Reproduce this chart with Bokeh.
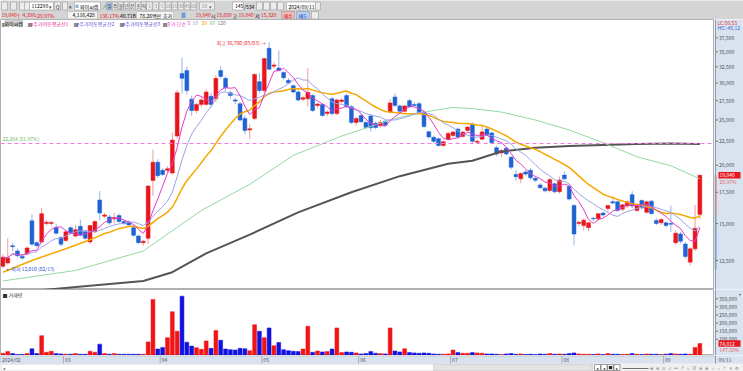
import pandas as pd
from bokeh.plotting import figure
from bokeh.layouts import column, row
from bokeh.models import ColumnDataSource, Range1d, Span, Label
from bokeh.core.properties import value
from bokeh.embed import file_html
from bokeh.resources import INLINE

# ---------------- data ----------------
opens = [12150,12350,13450,13100,12750,12900,15200,13650,13700,15000,
         15000,14700,14000,13800,14700,14100,14800,14400,13700,14400,
         16850,15550,15500,15350,15600,15150,15100,14700,14100,13650,
         13950,18550,20300,19500,19500,19250,23100,31450,31900,27700,
         26200,27000,27000,28100,27750,31900,30700,28600,27600,27100,
         25200,23800,25200,30200,28900,35600,32600,32300,31600,30400,
         29600,28700,27700,27760,28200,26850,27000,25800,27750,25800,
         27400,28200,26700,24700,25550,24700,25500,24600,24300,24850,
         26000,28000,26800,26100,27500,27000,27100,26000,23600,22950,
         22800,22050,22750,23150,23900,23050,23750,24500,22400,22740,
         23900,23450,21800,21250,21750,20800,19100,18700,19350,19500,
         18750,18150,17860,17660,18250,17550,19050,18000,16400,15000,
         14850,14700,15400,15350,15800,16150,16700,16700,16100,16350,
         17300,16000,16800,15850,16750,15230,15050,15050,15000,13650,
         14250,13560,12400,13240,15680]
highs = [12900,13950,13650,13250,12900,13400,15700,13750,16200,15250,
         15200,14950,14100,14500,14800,14900,15300,14500,14900,15250,
         17600,15800,15650,15800,15750,15300,15250,14800,14200,13850,
         18100,21600,20600,19700,19900,23500,29000,34000,32500,28200,
         27200,28000,29100,28600,31200,32600,31000,28900,27900,27300,
         25600,24500,31500,31500,34000,36700,33300,35200,31800,30700,
         29800,29000,28200,32300,28400,27200,27200,26200,28000,27800,
         27800,28500,26900,25400,25800,24900,25700,24800,25000,25000,
         27700,28500,27000,26900,27800,27300,27300,26200,23700,23100,
         22900,22600,23600,23700,24100,23700,24300,24700,22700,24300,
         24100,23600,22000,21700,21900,20900,19500,19300,19500,19700,
         18900,18300,18000,18800,18400,18900,19400,18200,16500,15200,
         15400,15100,15500,15800,15900,16450,17100,16800,16500,16800,
         17600,16600,16900,16800,16850,15400,15400,15150,16400,14500,
         14400,13700,13350,16450,19040]
lows = [12010,12250,13100,12700,12550,12850,13450,13350,13600,14850,
        14850,14200,13400,13700,14200,14000,14100,13850,13550,14300,
        15250,15400,14900,15000,15050,14900,14800,14050,13550,13450,
        13550,17200,18800,19000,19300,19100,22800,28500,28300,25500,
        25800,26600,26800,26600,27300,30700,28800,27800,27000,24800,
        23300,22700,25000,28600,28600,32000,32200,31800,30500,29800,
        28500,27400,27400,26700,26000,26500,25400,25500,25600,25600,
        27100,26500,24500,24300,24600,23900,23600,23900,24100,24200,
        25900,26700,25900,25900,26500,26700,25700,24000,22800,22300,
        21900,21900,22600,23000,22800,22900,23600,22300,22200,22600,
        23100,22200,20900,20800,21000,19600,18500,18300,19000,18600,
        18400,17800,17500,17500,17400,17400,18600,16800,13480,14800,
        14500,14450,15200,15200,15500,15900,16500,15900,15950,16200,
        16200,15900,16100,15750,15700,14900,14900,14700,14400,13500,
        13600,12600,12200,13100,15320]
closes = [12700,12650,13380,12800,12650,13300,13550,13450,15750,15100,
          15080,14300,13550,14400,14300,14550,14150,13950,14850,15150,
          15800,15650,15050,15450,15150,15000,14900,14150,13650,13750,
          18050,20300,19000,19100,19650,22650,28600,30700,28900,26200,
          27000,27600,28700,27000,30700,31000,29300,28200,27450,25000,
          23750,23950,31300,28900,33850,32100,32800,31900,30800,30000,
          28700,27600,27900,28650,26200,27050,25550,26000,25800,27600,
          27600,26700,24700,25200,24800,24100,24050,24100,24700,24350,
          27200,26850,26100,26800,26700,26850,25900,24200,23000,22500,
          22050,22450,23400,23550,23000,23550,24150,22500,22500,23570,
          23250,22350,21150,21500,21150,19800,18900,19200,19150,18800,
          18570,17900,17630,18630,17550,18600,18700,16930,14250,15100,
          15250,15050,15350,15750,15650,16400,16600,16000,16450,16700,
          16350,16450,16200,16700,15750,15000,15300,14850,14950,14300,
          13750,12750,13240,14650,19040]
volumes = [14000,24000,12000,6000,6000,12000,42000,12000,122000,20000,
           26000,12000,10000,8000,8000,12000,8000,8000,26000,20000,
           70000,12000,8000,12000,8000,8000,8000,8000,8000,8000,
           84000,346000,40000,50000,110000,270000,150000,366000,82000,58000,
           48000,38000,90000,44000,154000,94000,40000,36000,34000,44000,
           42000,30000,190000,150000,110000,170000,60000,80000,36000,30000,
           26000,24000,40000,180000,20000,28000,22000,24000,40000,170000,
           18000,22000,20000,16000,10000,12000,24000,14000,12000,10000,
           170000,28000,22000,42000,18000,16000,14000,16000,14000,10000,
           8000,8000,10000,34000,18000,14000,14000,18000,16000,14000,
           10000,10000,8000,6000,10000,12000,8000,10000,6000,8000,
           6000,10000,8000,12000,8000,10000,8000,12000,16000,10000,
           8000,8000,6000,10000,6000,12000,8000,8000,6000,8000,
           12000,8000,6000,10000,8000,8000,6000,8000,12000,10000,
           8000,10000,8000,50000,74000]

# moving-average values read off the picture where the window is not visible
ma20_head_idx = [0, 6, 13, 18]
ma20_head_val = [11800, 12500, 13250, 13850]
ma60_idx = [0, 15, 29, 41, 51, 60, 70, 81, 88, 93, 97, 103, 110, 117, 124, 131, 138, 144]
ma60_val = [11300, 11900, 13100, 16000, 18200, 21000, 23100, 25200, 26100, 26600, 26450,
            26000, 25000, 23800, 22350, 20850, 19950, 18700]
ma120_idx = [0, 10, 29, 35, 42, 51, 61, 72, 82, 92, 97, 103, 110, 117, 124, 131, 138, 144]
ma120_val = [10600, 10850, 11300, 11800, 12950, 14200, 15850, 17500, 18950, 20150, 20450,
             21400, 21800, 22000, 22100, 22200, 22250, 22200]

month_start_idx = [0, 13, 33, 54, 74, 93, 116, 137]
month_labels = ["2024/02", "03", "04", "05", "06", "07", "08", "09"]
last_date_label = "09/11"
price_ticks = [12500, 15000, 17500, 20000, 22500, 25000, 27500, 30000, 32500, 35000, 37500]
volume_ticks = [100000, 150000, 200000, 250000, 300000, 350000]
axis_bar_levels = [12000, 15600, 19040]
high_idx, high_price, high_text = 55, 36700, "최고 36,700 (05/03) →"
low_idx, low_price, low_text = 0, 12010, "←최저 12,010 (02/13)"
ref_price, ref_text = 22264, "22,264 (51.97%)"
last_price_text, last_change_text = "19,040", "29.97%"
last_vol_text, last_vol_pct = "74,012", "147.58%"

# ---------------- styles ----------------
FONT = "Noto Sans CJK KR"
FS = "5px"
RED = "#e8161c"
BLUE = "#1e62d4"
RED_WICK = "#f29a9a"
BLUE_WICK = "#92b4ea"
VRED = "#f01414"
VBLUE = "#1212e0"
PANEL = "#d9e3ef"
HDR = "#d4d4d4"
W = 743
FRAME_W = 714
AX_W = W - FRAME_W
PX = 4.84
PRICE_H, VOL_H, BOT_H = 270, 66, 16

n = len(closes)
xs = list(range(n))
up = [c >= o for o, c in zip(opens, closes)]
src = ColumnDataSource(dict(
    x=xs, high=highs, low=lows,
    top=[max(o, c) for o, c in zip(opens, closes)],
    bottom=[min(o, c) for o, c in zip(opens, closes)],
    body=[RED if u else BLUE for u in up],
    wick=[RED_WICK if u else BLUE_WICK for u in up],
    vol=volumes,
    vcol=[VRED if u else VBLUE for u in up]))

cs = pd.Series(closes, dtype=float)
ma5 = cs.rolling(5, min_periods=1).mean().tolist()
ma10 = cs.rolling(10, min_periods=1).mean().tolist()
ma20_full = cs.rolling(20).mean()
ma20_x = ma20_head_idx + xs[19:]
ma20_y = ma20_head_val + ma20_full.iloc[19:].tolist()


def txt(fig, x, y, s, color="#000000", align="left", size=FS, base="middle", **kw):
    fig.text(x=[x], y=[y], text=[s], text_color=color, text_align=align,
             text_baseline=base, text_font=value(FONT), text_font_size=size, **kw)


def box(fig, x0, x1, y0, y1, fill, line="#9a9a9a"):
    fig.quad(left=[x0], right=[x1], top=[y0], bottom=[y1], fill_color=fill,
             line_color=line, line_width=0.6)


def lab(fig, x, y, s, color="#000000", xu="screen", yu="screen", align="left",
        base="middle", bg=None, size=FS, **kw):
    fig.add_layout(Label(x=x, y=y, x_units=xu, y_units=yu, text=s, text_color=color,
                         text_font=FONT, text_font_size=size, text_align=align,
                         text_baseline=base, background_fill_color=bg, **kw))


def bare(f, bg):
    f.background_fill_color = bg
    f.border_fill_color = bg
    f.outline_line_color = None
    f.grid.visible = False
    return f


def pixel_fig(w, h, bg=HDR):
    f = figure(width=w, height=h, x_range=Range1d(0, w), y_range=Range1d(h, 0),
               toolbar_location=None, output_backend="svg", min_border=0,
               x_axis_location=None, y_axis_location=None)
    return bare(f, bg)

# ---------------- header (toolbar rows) ----------------
hdr = pixel_fig(W, 19)
for x0 in (1, 10, 19, 24):
    box(hdr, x0, x0 + 6, 1.5, 9.5, "#ececec")
box(hdr, 29, 53, 1.5, 9.5, "#ffffff")
txt(hdr, 31, 5.6, "112290")
txt(hdr, 48.5, 5.6, "▾", "#404040")
box(hdr, 54, 60, 1.5, 9.5, "#ececec")
txt(hdr, 57, 5.6, "Q", "#303030", align="center")
box(hdr, 62, 67, 1.5, 9.5, "#ececec")
txt(hdr, 68, 5.6, "▾", "#404040")
box(hdr, 74, 100, 1.5, 9.5, "#ffffff")
box(hdr, 75, 78, 4, 7.5, "#8fb0e0", None)
txt(hdr, 79.5, 5.6, "와이씨켐")
txt(hdr, 101, 5.6, "↗", "#2a9a2a")
for k, s in enumerate(["일", "주", "월", "년", "분", "초", "틱"]):
    x0 = 106 + k * 5.8
    box(hdr, x0, x0 + 5.4, 1.5, 9.5, "#a9c7ee" if k == 0 else "#ececec")
    txt(hdr, x0 + 2.7, 5.6, s, "#202020", align="center", size="4.5px")
for k, s in enumerate(["1", "3", "5", "10", "15", "30", "45", "60"]):
    x0 = 146 + k * 6.3
    box(hdr, x0, x0 + 5.8, 1.5, 9.5, "#ececec")
    txt(hdr, x0 + 2.9, 5.6, s, "#8a8a8a", align="center", size="4.5px")
box(hdr, 199, 214, 1.5, 9.5, "#ececec")
txt(hdr, 201, 5.6, "10", "#8a8a8a")
txt(hdr, 208.5, 5.6, "▾", "#606060")
box(hdr, 232, 243, 1.5, 9.5, "#ffffff")
txt(hdr, 234.5, 5.6, "145")
txt(hdr, 243.5, 5.6, "/534")
for x0 in (256, 263, 270, 277):
    box(hdr, x0, x0 + 6, 1.5, 9.5, "#ececec")
box(hdr, 286, 315, 1.5, 9.5, "#ffffff")
txt(hdr, 288, 5.6, "2024/09/11")
box(hdr, 315, 320, 1.5, 9.5, "#ececec")
# second row
txt(hdr, 1, 14.8, "19,040", RED)
txt(hdr, 15.5, 14.8, "↑", RED)
txt(hdr, 22, 14.8, "4,390", RED)
txt(hdr, 34, 14.8, "+29.97%", RED)
box(hdr, 67, 97, 11, 18.5, "#f4f4f4", "#b4b4b4")
txt(hdr, 72, 14.8, "4,116,428")
txt(hdr, 99, 14.8, "136.17%", RED)
txt(hdr, 119.5, 14.8, "40.71B")
box(hdr, 136, 173, 11, 18.5, "#f4f4f4", "#b4b4b4")
txt(hdr, 139, 14.8, "78.26백만")
txt(hdr, 162.5, 14.8, "호가")
box(hdr, 181, 185, 12, 17.5, "#6f9be0", None)
txt(hdr, 195, 14.8, "19,040", RED)
txt(hdr, 210.5, 14.8, "시")
txt(hdr, 216, 14.8, "15,680", RED)
txt(hdr, 232, 14.8, "고")
txt(hdr, 238, 14.8, "19,040", RED)
txt(hdr, 254.5, 14.8, "저")
txt(hdr, 260.5, 14.8, "15,320", RED)
box(hdr, 281, 294, 11, 18.5, "#f5b8b8")
txt(hdr, 287.5, 14.8, "매수", "#c01010", align="center")
box(hdr, 296, 309, 11, 18.5, "#b8cff5")
txt(hdr, 302.5, 14.8, "매도", "#1040b0", align="center")
box(hdr, 311, 318, 11, 18.5, "#ececec")

# ---------------- price pane ----------------
xr = Range1d(-0.5, -0.5 + FRAME_W / PX)
yr = Range1d(10834, 41044)
p = figure(width=FRAME_W, height=PRICE_H, x_range=xr, y_range=yr, y_axis_type="log",
           x_axis_location=None, y_axis_location=None, toolbar_location=None,
           output_backend="svg", min_border=0)
bare(p, "#ffffff")
p.outline_line_color = "#b0b0b0"
p.add_layout(Span(location=ref_price, dimension="width", line_color="#f07ce0",
                  line_dash="4 3", line_width=1))
p.segment(x0="x", y0="low", x1="x", y1="high", line_color="wick", line_width=1, source=src)
p.vbar(x="x", top="top", bottom="bottom", width=0.8, fill_color="body",
       line_color="body", line_width=0.5, source=src)
p.line(ma120_idx, ma120_val, line_color="#555555", line_width=2.0)
p.line(ma60_idx, ma60_val, line_color="#94d8a0", line_width=1)
p.line(ma20_x, ma20_y, line_color="#f5a800", line_width=1.5)
p.line(xs, ma10, line_color="#9aa2e6", line_width=1)
p.line(xs, ma5, line_color="#e63cc8", line_width=1)

txt(p, high_idx - 0.7, high_price, high_text, RED, align="right")
txt(p, low_idx + 0.7, low_price, low_text, "#2a4fcf")
lab(p, 2, ref_price, ref_text, "#66bb66", yu="data", base="bottom", y_offset=1)

legend_items = [(1, "■", "#8a8a8a"), (4, "와이씨켐", "#000000"), (27, "■", "#8a8a8a"),
                (30, "#주가이동평균선1", "#e8229a"), (73, "■", "#8a8a8a"),
                (76, "#주가이동평균선2", "#5a50dc"), (119, "■", "#8a8a8a"),
                (122, "#주가이동평균선3", "#4a48d0"), (162, "■", "#8a8a8a"),
                (166, "종가 단순", "#e63cc8"), (187, "5", "#e63cc8"),
                (192, "10", "#8f96e0"), (201, "20", "#f0a000"),
                (209, "60", "#6cc47a"), (217, "120", "#707070")]
for x, s, c in legend_items:
    lab(p, x, PRICE_H - 3.5, s, c, bg="#cfcfcf" if s == "와이씨켐" else None)

# price axis panel
pa = figure(width=AX_W, height=PRICE_H, x_range=Range1d(0, AX_W), y_range=yr,
            y_axis_type="log", x_axis_location=None, y_axis_location=None,
            toolbar_location=None, output_backend="svg", min_border=0)
bare(pa, PANEL)
pa.add_layout(Span(location=1, dimension="height", line_color="#8a9ab0", line_width=1))
pa.segment(x0=[1] * 2, x1=[1] * 2, y0=axis_bar_levels[:2], y1=axis_bar_levels[1:],
           line_color=["#6e96e0", "#f06a6a"], line_width=2)
pa.segment(x0=[1.5] * len(price_ticks), x1=[3.5] * len(price_ticks), y0=price_ticks,
           y1=price_ticks, line_color="#707070", line_width=1)
pa.text(x=[4.5] * len(price_ticks), y=price_ticks, text=[f"{t:,}" for t in price_ticks],
        text_color="#505050", text_baseline="middle", text_font=value(FONT),
        text_font_size=FS)
pa.rect(x=[15], y=[closes[-1]], width=22, height=6.5, height_units="screen",
        fill_color=RED, line_color=None)
lab(pa, 5, closes[-1], last_price_text, "#ffffff", xu="data", yu="data")
lab(pa, 5, closes[-1], last_change_text, "#e05a5a", xu="data", yu="data", y_offset=-6.5)
lab(pa, 3, PRICE_H - 2.8, "LC:50.53", "#e03030")
lab(pa, 3, PRICE_H - 7.8, "HC:-48.12", "#3060d0")

# ---------------- volume pane ----------------
vyr = Range1d(0, 407000)
v = figure(width=FRAME_W, height=VOL_H, x_range=xr, y_range=vyr, x_axis_location=None,
           y_axis_location=None, toolbar_location=None, output_backend="svg", min_border=0)
bare(v, "#ffffff")
v.outline_line_color = "#b0b0b0"
v.vbar(x="x", top="vol", bottom=0, width=0.8, fill_color="vcol", line_color="vcol",
       line_width=0.5, source=src)
lab(v, 2, VOL_H - 4.5, "■ 거래량", "#303030")

va = figure(width=AX_W, height=VOL_H, x_range=Range1d(0, AX_W), y_range=vyr,
            x_axis_location=None, y_axis_location=None, toolbar_location=None,
            output_backend="svg", min_border=0)
bare(va, PANEL)
va.add_layout(Span(location=1, dimension="height", line_color="#8a9ab0", line_width=1))
va.segment(x0=[1.5] * len(volume_ticks), x1=[3.5] * len(volume_ticks), y0=volume_ticks,
           y1=volume_ticks, line_color="#707070", line_width=1)
va.text(x=[4.5] * len(volume_ticks), y=volume_ticks, text=[f"{t:,}" for t in volume_ticks],
        text_color="#505050", text_baseline="middle", text_font=value(FONT),
        text_font_size=FS)
va.rect(x=[15], y=[volumes[-1]], width=22, height=6.5, height_units="screen",
        fill_color=RED, line_color=None)
lab(va, 5, volumes[-1], last_vol_text, "#ffffff", xu="data", yu="data")
lab(va, 5, volumes[-1], last_vol_pct, "#e05a5a", xu="data", yu="data", y_offset=-6)
lab(va, 23, VOL_H - 4, "▪", "#505050")

# ---------------- date band + scroll bar (one strip, candle-aligned x) ----------------
def px2x(px):
    return -0.5 + px / PX


bot = figure(width=W, height=BOT_H, x_range=Range1d(-0.5, px2x(W)), y_range=Range1d(BOT_H, 0),
             x_axis_location=None, y_axis_location=None, toolbar_location=None,
             output_backend="svg", min_border=0)
bare(bot, "#f0f0f0")
box(bot, -0.5, px2x(W), 0, 8, PANEL, None)
bot.line(x=[-0.5, px2x(FRAME_W)], y=[0.3, 0.3], line_color="#b0b0b0", line_width=0.8)
tick_pos = [i - 0.5 for i in month_start_idx]
bot.segment(x0=tick_pos, x1=tick_pos, y0=[0] * len(tick_pos), y1=[8] * len(tick_pos),
            line_color="#a3aebd", line_width=1)
bot.text(x=tick_pos, y=[4.4] * len(tick_pos), text=month_labels, x_offset=1.5,
         text_color="#505060", text_baseline="middle", text_font=value(FONT),
         text_font_size=FS)
bot.segment(x0=[px2x(FRAME_W + 1)], x1=[px2x(FRAME_W + 1)], y0=[0], y1=[8],
            line_color="#8a9ab0", line_width=1)
txt(bot, px2x(718), 4.4, last_date_label, "#505060")
# scroll bar row
box(bot, px2x(0.5), px2x(592), 8.6, 15.5, "#ffffff", "#c4c4c4")
box(bot, px2x(433), px2x(591), 9.2, 15, "#e4e4e4", "#c8c8c8")
txt(bot, px2x(2), 12, "◂", "#404040", size="4px")
for k, s in enumerate(["▸", "◂", "■", "▸"]):
    x0 = 594 + k * 6.5
    box(bot, px2x(x0), px2x(x0 + 6), 9, 15, "#ffffff", "#606060")
    txt(bot, px2x(x0 + 3), 12, s, "#202020", align="center", size="4px")
bot.line(x=[px2x(622), px2x(648)], y=[13, 13], line_color="#505050", line_width=0.8)
for k, s in enumerate(["⊞", "⊟", "⊡", "✓", "↔", "↗", "⌂", "⊘", "⊟", "⊞", "⌕", "=", "+", "A", "⚙"]):
    txt(bot, px2x(651 + k * 6.1), 12, s, "#707070", align="center", size="4px")

layout = column(hdr, row(p, pa, spacing=0), row(v, va, spacing=0), bot, spacing=0)
open("out.html", "w").write(file_html(layout, INLINE))
